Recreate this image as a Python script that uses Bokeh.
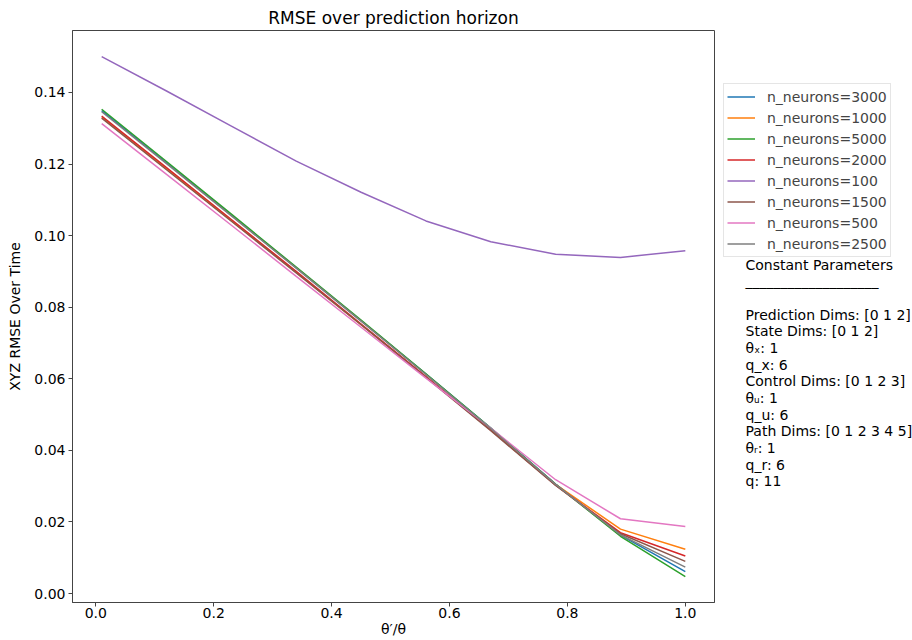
from bokeh.plotting import figure
from bokeh.layouts import row
from bokeh.models import Legend, LegendItem, Label, FixedTicker, NumeralTickFormatter
from bokeh.embed import file_html
from bokeh.resources import INLINE

# ---- data ----
horizon = [0.01, 0.12, 0.23, 0.34, 0.45, 0.56, 0.67, 0.78, 0.89, 1.0]

series_labels = ["n_neurons=3000", "n_neurons=1000", "n_neurons=5000", "n_neurons=2000",
                 "n_neurons=100", "n_neurons=1500", "n_neurons=500", "n_neurons=2500"]

rmse_3000 = [0.1349, 0.1203, 0.1057, 0.0910, 0.0762, 0.0613, 0.0462, 0.0306, 0.0163, 0.0061]
rmse_1000 = [0.1330, 0.1186, 0.1042, 0.0897, 0.0751, 0.0605, 0.0457, 0.0305, 0.0180, 0.0124]
rmse_5000 = [0.1353, 0.1207, 0.1060, 0.0912, 0.0764, 0.0614, 0.0462, 0.0305, 0.0160, 0.0047]
rmse_2000 = [0.1334, 0.1190, 0.1045, 0.0900, 0.0753, 0.0606, 0.0457, 0.0303, 0.0170, 0.0105]
rmse_100 = [0.1500, 0.1404, 0.1306, 0.1208, 0.1121, 0.1041, 0.0983, 0.0948, 0.0939, 0.0958]
rmse_1500 = [0.1328, 0.1184, 0.1040, 0.0896, 0.0751, 0.0604, 0.0455, 0.0302, 0.0167, 0.0090]
rmse_500 = [0.1313, 0.1171, 0.1029, 0.0886, 0.0744, 0.0602, 0.0462, 0.0318, 0.0209, 0.0187]
rmse_2500 = [0.1346, 0.1201, 0.1055, 0.0909, 0.0761, 0.0612, 0.0461, 0.0305, 0.0164, 0.0074]

series_values = [rmse_3000, rmse_1000, rmse_5000, rmse_2000,
                 rmse_100, rmse_1500, rmse_500, rmse_2500]

colors = ["#1f77b4", "#ff7f0e", "#2ca02c", "#d62728",
          "#9467bd", "#8c564b", "#e377c2", "#7f7f7f"]

x_ticks = [0.0, 0.2, 0.4, 0.6, 0.8, 1.0]
y_ticks = [0.00, 0.02, 0.04, 0.06, 0.08, 0.10, 0.12, 0.14]

param_lines = ["Constant Parameters", "___________________", "",
               "Prediction Dims: [0 1 2]", "State Dims: [0 1 2]", "θₓ: 1", "q_x: 6",
               "Control Dims: [0 1 2 3]", "θᵤ: 1", "q_u: 6",
               "Path Dims: [0 1 2 3 4 5]", "θᵣ: 1", "q_r: 6", "q: 11"]

FONT = "DejaVu Sans"
H = 640
MAIN_W = 718
SIDE_W = 194
FRAME_BOTTOM = 602   # page y of the (row-aligned) frame bottom

p = figure(width=MAIN_W, height=H, output_backend="svg", toolbar_location=None,
           x_range=(-0.0395, 1.0495), y_range=(-0.0025, 0.1573),
           min_border_left=72, min_border_right=4, min_border_top=30, min_border_bottom=38,
           title="RMSE over prediction horizon")

p.title.text_font = FONT
p.title.text_font_size = "17px"
p.title.text_font_style = "normal"
p.title.align = "center"
p.title.standoff = 5
p.title.text_color = "black"

p.grid.visible = False
p.outline_line_color = "#444444"
p.outline_line_width = 1
p.background_fill_color = "white"
p.border_fill_color = "white"

for ax in (p.xaxis[0], p.yaxis[0]):
    ax.major_label_text_font = FONT
    ax.major_label_text_font_size = "14px"
    ax.major_label_text_color = "black"
    ax.axis_label_text_font = FONT
    ax.axis_label_text_font_size = "14px"
    ax.axis_label_text_font_style = "normal"
    ax.axis_label_text_color = "black"
    ax.minor_tick_in = 0
    ax.minor_tick_out = 0
    ax.major_tick_in = 0
    ax.major_tick_out = 4
    ax.major_tick_line_color = "#444444"
    ax.axis_line_color = "#444444"
    ax.major_label_standoff = 3

p.xaxis.ticker = FixedTicker(ticks=x_ticks)
p.xaxis.formatter = NumeralTickFormatter(format="0.0")
p.xaxis.axis_label = "θ′/θ"
p.xaxis.axis_label_standoff = 0
p.xaxis.major_label_standoff = 1
p.yaxis.ticker = FixedTicker(ticks=y_ticks)
p.yaxis.formatter = NumeralTickFormatter(format="0.00")
p.yaxis.axis_label = "XYZ RMSE Over Time"
p.yaxis.axis_label_standoff = 8

for vals, col in zip(series_values, colors):
    p.line(horizon, vals, line_color=col, line_width=1.5)

# ---- side panel: legend + constant parameters ----
side = figure(width=SIDE_W, height=H, output_backend="svg", toolbar_location=None,
              x_range=(0, 1), y_range=(0, 1), x_axis_type=None, y_axis_type=None,
              min_border=0)
side.grid.visible = False
side.outline_line_color = None
side.background_fill_color = "white"
side.border_fill_color = "white"

nan = float("nan")
items = []
for lbl, col in zip(series_labels, colors):
    r = side.line(x=[nan], y=[nan], line_color=col, line_width=1.5)
    items.append(LegendItem(label=lbl, renderers=[r]))

legend = Legend(items=items, location=(5, FRAME_BOTTOM - 257))
legend.label_text_font = FONT
legend.label_text_font_size = "14px"
legend.glyph_width = 28
legend.glyph_height = 19
legend.label_height = 19
legend.label_standoff = 12
legend.spacing = 2
legend.padding = 3
legend.margin = 0
legend.border_line_color = "#cccccc"
legend.border_line_width = 1
legend.background_fill_alpha = 0.8
side.add_layout(legend)

for i, line in enumerate(param_lines):
    if not line:
        continue
    cy = 264 + 16.67 * i          # page y of the line centre
    side.add_layout(Label(x=27, y=FRAME_BOTTOM - cy, x_units="screen", y_units="screen",
                          text=line, text_font=FONT, text_font_size="14px",
                          text_align="left", text_baseline="middle", text_color="black"))

page = row(p, side)
open("out.html", "w").write(file_html(page, INLINE))
